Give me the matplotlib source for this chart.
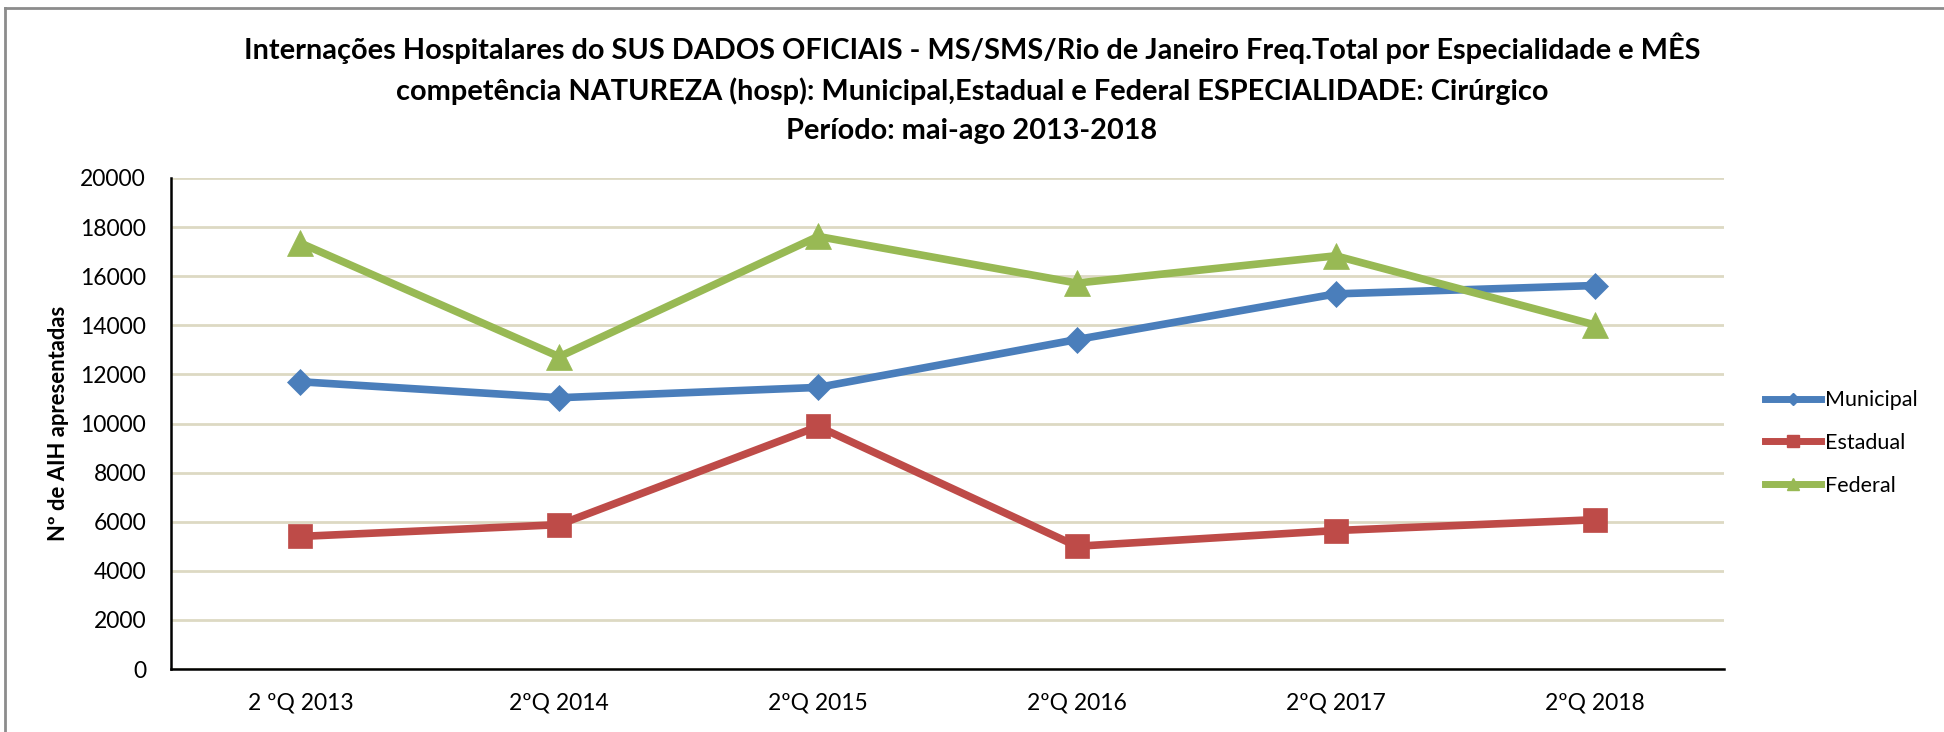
import matplotlib
matplotlib.use("Agg")
import matplotlib.pyplot as plt
from matplotlib.lines import Line2D

categories = ["2 ºQ 2013", "2ºQ 2014", "2ºQ 2015", "2ºQ 2016", "2ºQ 2017", "2ºQ 2018"]
municipal = [11700, 11050, 11470, 13420, 15280, 15620]
estadual = [5400, 5880, 9880, 5000, 5640, 6080]
federal = [17350, 12720, 17620, 15720, 16830, 14020]
yticks = list(range(0, 20001, 2000))

title = ("Internações Hospitalares do SUS DADOS OFICIAIS - MS/SMS/Rio de Janeiro Freq.Total por Especialidade e MÊS\n"
         "competência NATUREZA (hosp): Municipal,Estadual e Federal ESPECIALIDADE: Cirúrgico\n"
         "Período: mai-ago 2013-2018")

plt.rcParams['font.family'] = ['Lato', 'DejaVu Sans']

W, H = 1944, 732
fig = plt.figure(figsize=(W / 100, H / 100), dpi=100)
ax = fig.add_axes([171 / W, 1 - 669 / H, (1724 - 171) / W, (669 - 178) / H])

x = list(range(len(categories)))
c_mun, c_est, c_fed = "#4A7EBB", "#BE4B48", "#98B954"
lw = 5.5
ax.plot(x, municipal, color=c_mun, lw=lw, marker='D', ms=13.5, mec=c_mun, mew=0.5, label="Municipal", zorder=3)
ax.plot(x, estadual, color=c_est, lw=lw, marker='s', ms=17.5, mec=c_est, mew=0.5, label="Estadual", zorder=3)
ax.plot(x, federal, color=c_fed, lw=lw, marker='^', ms=19, mec=c_fed, mew=0.5, label="Federal", zorder=3)

ax.set_xlim(-0.5, len(categories) - 0.5)
ax.set_ylim(0, 20000)
ax.set_yticks(yticks)
ax.set_yticklabels([str(v) for v in yticks], fontsize=16.5)
ax.set_xticks(x)
ax.set_xticklabels(categories, fontsize=16.5)
ax.tick_params(axis='x', length=0, pad=17)
ax.tick_params(axis='y', length=0, pad=18)
ax.grid(axis='y', color="#DDD9C3", lw=2)
ax.set_axisbelow(True)
for s in ['top', 'right']:
    ax.spines[s].set_visible(False)
for s in ['left', 'bottom']:
    ax.spines[s].set_linewidth(1.8)
    ax.spines[s].set_color('black')

ax.set_ylabel("Nº de AIH apresentadas", fontsize=15.8, fontweight='bold')
ax.yaxis.set_label_coords(-0.066, 0.5)

fig.text(0.5, 1 - 88 / H, title, ha='center', va='center', fontsize=20.8, fontweight='bold',
         linespacing=1.6)

handles = [Line2D([], [], color=c, lw=5, marker=m, ms=ms, mec=c) for c, m, ms in
           [(c_mun, 'D', 6), (c_est, 's', 9), (c_fed, '^', 8)]]
fig.legend(handles, ["Municipal", "Estadual", "Federal"], loc='center left',
           bbox_to_anchor=(1746 / W, 1 - 443 / H), frameon=False, fontsize=15.5,
           handlelength=2.6, handletextpad=0.15, labelspacing=1.05)

# chart-area border (top and left visible)
fig.add_artist(Line2D([4.5 / W, 4.5 / W], [0, 1 - 8 / H], color="#8C8C8C", lw=2, transform=fig.transFigure))
fig.add_artist(Line2D([4.5 / W, 1], [1 - 8 / H, 1 - 8 / H], color="#8C8C8C", lw=2, transform=fig.transFigure))

fig.savefig("out.png", dpi=100, facecolor='white')
